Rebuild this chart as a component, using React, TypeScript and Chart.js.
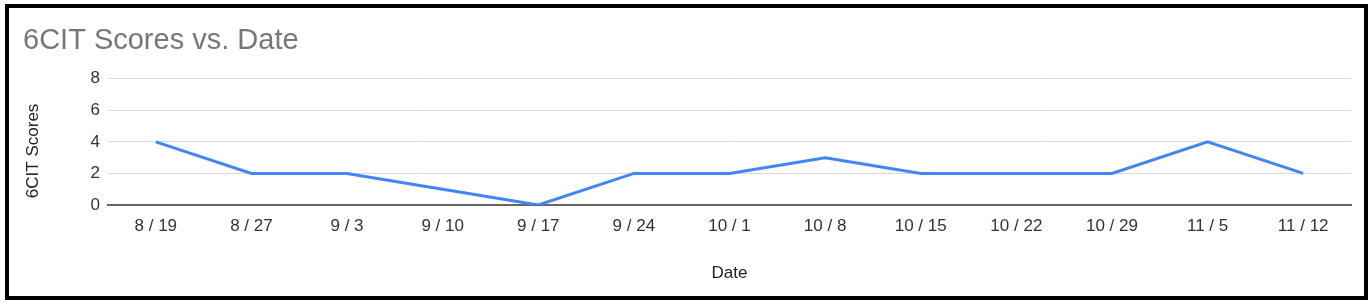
import React, { useEffect, useRef } from "react";
import { Chart, registerables } from "chart.js";

Chart.register(...registerables);

const categories = ["8 / 19", "8 / 27", "9 / 3", "9 / 10", "9 / 17", "9 / 24", "10 / 1", "10 / 8", "10 / 15", "10 / 22", "10 / 29", "11 / 5", "11 / 12"];
const scores = [4, 2, 2, 1, 0, 2, 2, 3, 2, 2, 2, 4, 2];
const yTicks = [0, 2, 4, 6, 8];
const chartTitle = "6CIT Scores vs. Date";
const xTitle = "Date";
const yTitle = "6CIT Scores";

const FONT = "'Liberation Sans', Arial, sans-serif";

const yTitlePlugin = {
  id: "yTitlePlugin",
  afterDraw(chart: any) {
    const { ctx, chartArea } = chart;
    ctx.save();
    ctx.font = `17px ${FONT}`;
    ctx.fillStyle = "#222222";
    ctx.textAlign = "center";
    ctx.textBaseline = "middle";
    ctx.translate(24, (chartArea.top + chartArea.bottom) / 2 + 9);
    ctx.rotate(-Math.PI / 2);
    ctx.fillText(yTitle, 0, 0);
    ctx.restore();
  },
};

export default function App() {
  const ref = useRef<HTMLCanvasElement | null>(null);
  useEffect(() => {
    if (!ref.current) return;
    const chart = new Chart(ref.current, {
      type: "line",
      data: {
        labels: categories,
        datasets: [
          {
            label: yTitle,
            data: scores,
            borderColor: "#4285F4",
            backgroundColor: "#4285F4",
            borderWidth: 3,
            pointRadius: 0,
            pointHoverRadius: 0,
            tension: 0,
            fill: false,
          },
        ],
      },
      options: {
        animation: false,
        responsive: false,
        maintainAspectRatio: false,
        layout: { padding: { left: 14, right: 13, top: 0, bottom: 0 } },
        plugins: {
          legend: { display: false },
          tooltip: { enabled: false },
          title: {
            display: true,
            text: chartTitle,
            align: "start",
            color: "#777777",
            font: { family: FONT, size: 29, weight: "normal" },
            padding: { top: 16, bottom: 20 },
          },
        },
        scales: {
          x: {
            offset: true,
            grid: { display: false, drawTicks: false },
            border: { display: true, color: "#666666", width: 2 },
            ticks: {
              color: "#333333",
              font: { family: FONT, size: 17 },
              padding: 11,
              maxRotation: 0,
              autoSkip: false,
            },
            title: {
              display: true,
              text: xTitle,
              color: "#222222",
              font: { family: FONT, size: 17 },
              padding: { top: 0, bottom: 12 },
            },
            afterFit(scale: any) {
              scale.height = 91;
            },
          },
          y: {
            min: 0,
            max: 8,
            afterBuildTicks(scale: any) {
              scale.ticks = yTicks.map((v) => ({ value: v }));
            },
            grid: {
              drawTicks: false,
              color: (c: any) => (c.tick && c.tick.value === 0 ? "#666666" : "#d9d9d9"),
              lineWidth: (c: any) => (c.tick && c.tick.value === 0 ? 2 : 1),
            },
            border: { display: false },
            ticks: {
              color: "#333333",
              font: { family: FONT, size: 17 },
              padding: 8,
            },
            afterFit(scale: any) {
              scale.width = 85;
            },
          },
        },
      },
      plugins: [yTitlePlugin],
    });
    return () => chart.destroy();
  }, []);

  return (
    <div
      style={{
        position: "absolute",
        left: 5,
        top: 4,
        width: 1363,
        height: 296,
        border: "4px solid #000",
        boxSizing: "border-box",
        background: "#fff",
      }}
    >
      <canvas ref={ref} width={1355} height={288} style={{ display: "block", width: 1355, height: 288 }} />
    </div>
  );
}
